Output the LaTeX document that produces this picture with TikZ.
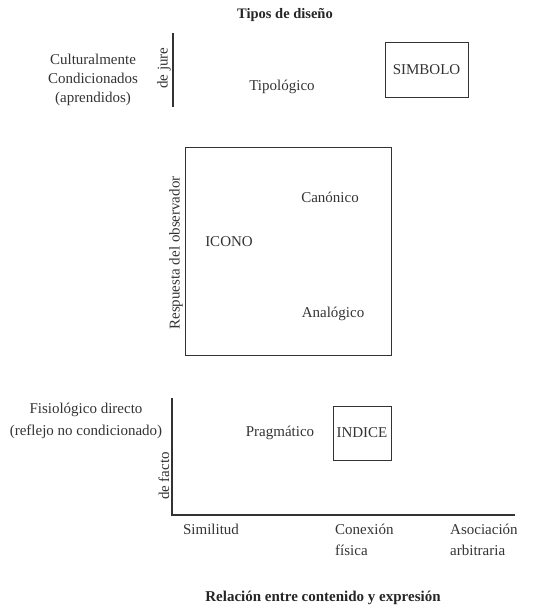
\documentclass[tikz,border=0pt]{standalone}
\usepackage{fontspec}
\setmainfont{Liberation Serif}
\begin{document}
\begin{tikzpicture}[x=1pt,y=-1pt,
  lbl/.style={font=\fontsize{15}{19}\selectfont, inner sep=0pt, text=black!80},
  ttl/.style={font=\fontsize{15}{19}\selectfont\bfseries, inner sep=0pt, text=black!85},
  boxed/.style={draw=black!80, line width=1pt},
  axis/.style={draw=black!80, line width=1.3pt}]
\useasboundingbox (0,0) rectangle (557,608);
% title
\node[ttl, font=\fontsize{14.5}{18}\selectfont\bfseries] (title) at (285,15) {Tipos de diseño};
% top row
\coordinate (jtop) at (173,33);
\coordinate (jbot) at (173,107);
\draw[axis] (jtop) -- (jbot);
\node[lbl, rotate=90] (dejure) at (164,68) {de jure};
\node[lbl, align=center] (cult) at (93,80) {Culturalmente\\Condicionados\\(aprendidos)};
\node[lbl] (tipo) at (282,87) {Tipológico};
\node[boxed, minimum width=83pt, minimum height=55pt, lbl, draw=black!80] (simb) at (426.5,69.5) {SIMBOLO};
% middle box
\node[boxed, minimum width=206pt, minimum height=208pt, inner sep=0pt] (icbox) at (288,251) {};
\node[lbl, rotate=90] (resp) at (176,253) {Respuesta del observador};
\node[lbl] (icono) at (229,242) {ICONO};
\node[lbl] (canon) at (330,197) {Canónico};
\node[lbl] (analog) at (333,314) {Analógico};
% bottom
\coordinate (ytop) at (172,398);
\coordinate (origin) at (172,515);
\coordinate (xend) at (515,515);
\draw[axis] (ytop) -- (origin) -- (xend);
\node[lbl, rotate=90] (defacto) at (164,476) {de facto};
\node[lbl, align=center, font=\fontsize{15}{22}\selectfont] (fisio) at (86,421) {Fisiológico directo\\(reflejo no condicionado)};
\node[lbl] (prag) at (280,433) {Pragmático};
\node[boxed, minimum width=58pt, minimum height=54pt, lbl, draw=black!80] (indice) at (362,433) {INDICE};
\node[lbl] (simil) at (211,529) {Similitud};
\node[lbl, align=left, anchor=west, font=\fontsize{15}{21}\selectfont] (conex) at (335,539.5) {Conexión\\física};
\node[lbl, align=left, anchor=west, font=\fontsize{15}{21}\selectfont] (asoc) at (450,539.5) {Asociación\\arbitraria};
\node[ttl] (rel) at (323,598) {Relación entre contenido y expresión};
\end{tikzpicture}
\end{document}
